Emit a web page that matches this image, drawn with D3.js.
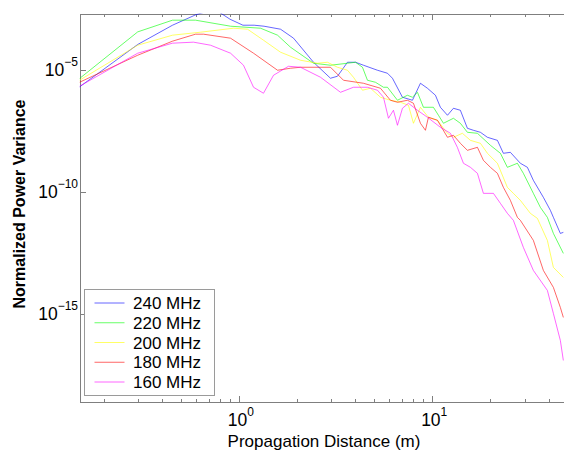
<!DOCTYPE html>
<html lang="en">
<head>
<meta charset="UTF-8">
<script src="https://cdn.jsdelivr.net/npm/d3@7"></script>
<title>Normalized Power Variance</title>
<style>
    body { margin: 0; background: #fff; }
    text { font-family: "Liberation Sans", Arial, Helvetica, sans-serif; fill: #000; }
    .axis path, .axis line { stroke: #7f7f7f; shape-rendering: crispEdges; }
    .series { fill: none; stroke-width: 1; stroke-opacity: 0.6; }
</style>
</head>
<body>
<svg id="chart" width="564" height="451"></svg>
<script>
const labels = ["240 MHz", "220 MHz", "200 MHz", "180 MHz", "160 MHz"];
const colors = ["#0000ff", "#00ff00", "#ffff00", "#ff0000", "#ff00ff"];

const dist240 = [0.15, 0.30, 0.454, 0.60, 0.75, 0.90, 1.05, 1.20, 1.35, 1.643, 1.918, 2.432, 2.978, 3.236, 3.646, 4.01, 4.41, 5.21, 5.868, 6.227, 7.015, 7.902, 8.69, 9.445, 10.39, 11.02, 11.99, 12.87, 13.98, 15.2, 16.33, 17.75, 19.29, 21.73, 23.33, 25.36, 28.56, 31.05, 33.34, 37.56, 40.83, 42.31, 45.97, 47.64];
const power240 = [1.94e-6, 1.06e-4, 6.53e-4, 1.76e-3, 2.96e-3, 1.15e-3, 6.53e-4, 6.53e-4, 5.94e-4, 4.48e-4, 1.92e-4, 1.99e-5, 4.40e-6, 5.31e-6, 1.99e-5, 1.99e-5, 1.50e-5, 9.35e-6, 7.05e-6, 4.40e-6, 7.33e-7, 5.52e-7, 2.74e-6, 1.71e-6, 8.85e-7, 2.85e-7, 1.34e-7, 2.59e-7, 2.15e-7, 3.93e-8, 3.25e-8, 2.69e-8, 1.68e-8, 1.26e-8, 3.72e-9, 4.07e-9, 1.45e-9, 9.91e-10, 2.90e-10, 5.83e-11, 1.71e-11, 8.85e-12, 1.95e-12, 2.15e-12];

const dist220 = [0.15, 0.30, 0.454, 0.597, 0.906, 1.295, 1.585, 1.85, 2.432, 2.978, 3.646, 4.01, 4.358, 4.625, 5.088, 5.596, 5.868, 6.61, 7.443, 7.902, 8.386, 9.005, 10.14, 10.77, 11.43, 12.87, 13.98, 15.2, 17.13, 19.99, 22.52, 24.47, 27.56, 29.6, 33.34, 36.24, 39.39, 42.31, 47.64];
const power220 = [4.28e-6, 3.48e-4, 1.05e-3, 1.05e-3, 5.94e-4, 4.92e-4, 2.55e-4, 8.20e-5, 1.81e-5, 1.50e-5, 1.81e-5, 1.99e-5, 1.24e-5, 3.64e-6, 3.01e-6, 1.88e-6, 1.88e-6, 5.52e-7, 8.85e-7, 7.33e-7, 1.17e-6, 2.85e-7, 2.85e-7, 1.34e-7, 6.30e-8, 1.01e-7, 6.30e-8, 2.69e-8, 2.45e-8, 7.89e-9, 3.72e-9, 9.91e-10, 1.45e-9, 5.62e-10, 8.51e-11, 2.27e-11, 8.85e-12, 1.95e-12, 2.96e-13];

const dist200 = [0.15, 0.30, 0.454, 0.634, 0.939, 1.109, 1.341, 1.643, 2.084, 2.551, 2.873, 3.236, 3.646, 3.915, 4.358, 4.792, 5.399, 6.081, 6.85, 7.534, 7.996, 8.69, 9.558, 10.64, 11.99, 12.87, 14.32, 15.76, 17.75, 19.29, 21.73, 24.47, 26.28, 28.56, 32.17, 34.97, 39.39, 42.31, 47.64];
const power200 = [3.64e-6, 9.91e-5, 2.55e-4, 3.38e-4, 4.92e-4, 4.48e-4, 1.59e-4, 5.12e-5, 2.40e-5, 1.81e-5, 1.99e-5, 1.24e-5, 9.35e-6, 4.83e-6, 1.42e-6, 1.71e-6, 7.33e-7, 5.52e-7, 4.57e-7, 3.44e-7, 6.30e-8, 2.85e-7, 1.11e-7, 8.36e-8, 2.45e-8, 1.68e-8, 2.45e-8, 1.26e-8, 9.53e-9, 3.72e-9, 1.45e-9, 1.50e-10, 8.51e-11, 4.40e-11, 1.29e-11, 8.05e-12, 1.01e-12, 7.89e-14, 3.08e-14];

const dist180 = [0.15, 0.30, 0.454, 0.597, 0.657, 0.906, 1.191, 1.585, 1.85, 2.084, 2.978, 3.476, 4.41, 5.399, 6.081, 6.61, 7.443, 7.996, 8.69, 9.223, 9.558, 10.64, 11.99, 12.87, 13.98, 15.2, 17.13, 18.39, 19.99, 21.73, 23.33, 25.36, 27.56, 28.56, 33.34, 37.56, 42.31, 45.97, 47.64];
const power180 = [3.01e-6, 3.85e-5, 1.45e-4, 2.80e-4, 2.80e-4, 1.92e-4, 4.66e-5, 9.35e-6, 1.13e-5, 1.24e-5, 1.24e-5, 3.64e-6, 2.74e-6, 1.71e-6, 5.52e-7, 4.57e-7, 5.52e-7, 4.16e-7, 6.30e-8, 3.25e-8, 1.11e-7, 8.36e-8, 1.68e-8, 2.03e-8, 9.53e-9, 4.92e-9, 6.53e-9, 1.92e-9, 9.91e-10, 5.62e-10, 1.50e-10, 4.40e-11, 8.85e-12, 6.67e-12, 1.01e-12, 5.94e-14, 1.20e-14, 1.81e-15, 7.05e-16];

const dist160 = [0.15, 0.30, 0.454, 0.583, 0.714, 0.906, 1.057, 1.191, 1.341, 1.511, 1.806, 2.084, 2.644, 3.355, 3.915, 4.625, 5.21, 5.596, 5.939, 6.302, 6.61, 7.015, 7.534, 8.386, 9.445, 11.02, 12.42, 13.49, 14.5, 15.76, 17.13, 18.39, 20.72, 22.52, 24.47, 26.28, 29.6, 33.34, 39.39, 42.31, 45.97, 47.64];
const power160 = [2.07e-6, 4.66e-5, 1.20e-4, 1.32e-4, 9.91e-5, 4.66e-5, 1.50e-5, 1.88e-6, 1.07e-6, 5.83e-6, 1.36e-5, 1.24e-5, 4.83e-6, 1.17e-6, 1.88e-6, 1.88e-6, 1.42e-6, 7.33e-7, 1.01e-7, 2.15e-7, 5.21e-8, 2.59e-7, 4.16e-7, 2.15e-7, 1.11e-7, 4.32e-8, 2.45e-8, 6.53e-9, 1.45e-9, 9.91e-10, 5.62e-10, 8.51e-11, 8.51e-11, 3.31e-11, 1.29e-11, 6.67e-12, 5.21e-13, 5.94e-14, 9.02e-15, 1.03e-15, 8.05e-17, 1.22e-17];

const xMajor = [1, 10];
const xMinor = [0.2, 0.3, 0.4, 0.5, 0.6, 0.7, 0.8, 0.9, 2, 3, 4, 5, 6, 7, 8, 9, 20, 30, 40];
const yMajor = [1e-5, 1e-10, 1e-15];
const xLabelExp = [0, 1];
const yLabelExp = [-5, -10, -15];

const series = [
    [dist240, power240], [dist220, power220], [dist200, power200],
    [dist180, power180], [dist160, power160]
];

const svg = d3.select("#chart");
const plotLeft = 79.5, plotRight = 564.5, plotTop = 13.5, plotBottom = 401.5;

const x = d3.scaleLog().domain([0.15, 48.3]).range([plotLeft, plotRight]);
const y = d3.scaleLog().domain([2.55e-19, 1.97e-3]).range([plotBottom, plotTop]);

svg.append("clipPath").attr("id", "plot")
    .append("rect").attr("x", plotLeft).attr("y", plotTop)
    .attr("width", plotRight - plotLeft).attr("height", plotBottom - plotTop);

// axes box with inward ticks
svg.append("g").attr("class", "axis").attr("transform", `translate(0,${plotBottom})`)
    .call(d3.axisBottom(x).tickValues(xMajor).tickSize(-6).tickSizeOuter(0).tickFormat(""));
svg.append("g").attr("class", "axis").attr("transform", `translate(0,${plotBottom})`)
    .call(d3.axisBottom(x).tickValues(xMinor).tickSize(-3).tickSizeOuter(0).tickFormat(""))
    .select(".domain").remove();
svg.append("g").attr("class", "axis").attr("transform", `translate(0,${plotTop})`)
    .call(d3.axisTop(x).tickValues(xMajor).tickSize(-6).tickSizeOuter(0).tickFormat(""));
svg.append("g").attr("class", "axis").attr("transform", `translate(0,${plotTop})`)
    .call(d3.axisTop(x).tickValues(xMinor).tickSize(-3).tickSizeOuter(0).tickFormat(""))
    .select(".domain").remove();
svg.append("g").attr("class", "axis").attr("transform", `translate(${plotLeft},0)`)
    .call(d3.axisLeft(y).tickValues(yMajor).tickSize(-6).tickSizeOuter(0).tickFormat(""));

function powerLabel(t, e) {
    t.append("tspan").text("10");
    t.append("tspan").attr("dy", -10).attr("font-size", 12)
        .text(e < 0 ? "\u2212" + (-e) : e);
}

xMajor.forEach((v, i) => {
    svg.append("text").attr("x", x(v) + 2).attr("y", 426)
        .attr("text-anchor", "middle").attr("font-size", 17.5)
        .call(powerLabel, xLabelExp[i]);
});
yMajor.forEach((v, i) => {
    svg.append("text").attr("x", 78).attr("y", y(v) + 6)
        .attr("text-anchor", "end").attr("font-size", 17.5)
        .call(powerLabel, yLabelExp[i]);
});

svg.append("text").attr("x", 324).attr("y", 447)
    .attr("text-anchor", "middle").attr("font-size", 17)
    .text("Propagation Distance (m)");
svg.append("text").attr("transform", "translate(25,204) rotate(-90)")
    .attr("text-anchor", "middle").attr("font-size", 16).attr("font-weight", "bold")
    .text("Normalized Power Variance");

const line = d3.line().x(d => x(d[0])).y(d => y(d[1]));
const plot = svg.append("g").attr("clip-path", "url(#plot)");
series.forEach((s, i) => {
    plot.append("path").attr("class", "series")
        .attr("stroke", colors[i])
        .attr("d", line(d3.zip(s[0], s[1])));
});

// legend
const legend = svg.append("g").attr("transform", "translate(84.5,289.5)");
legend.append("rect").attr("width", 130).attr("height", 106)
    .attr("fill", "#fff").attr("stroke", "#9a9a9a");
labels.forEach((name, i) => {
    const ly = 13.5 + i * 19.75;
    legend.append("line").attr("x1", 10).attr("x2", 40).attr("y1", ly).attr("y2", ly)
        .attr("class", "series").attr("stroke", colors[i]);
    legend.append("text").attr("x", 48.5).attr("y", ly + 6).attr("font-size", 17).text(name);
});
</script>
</body>
</html>
